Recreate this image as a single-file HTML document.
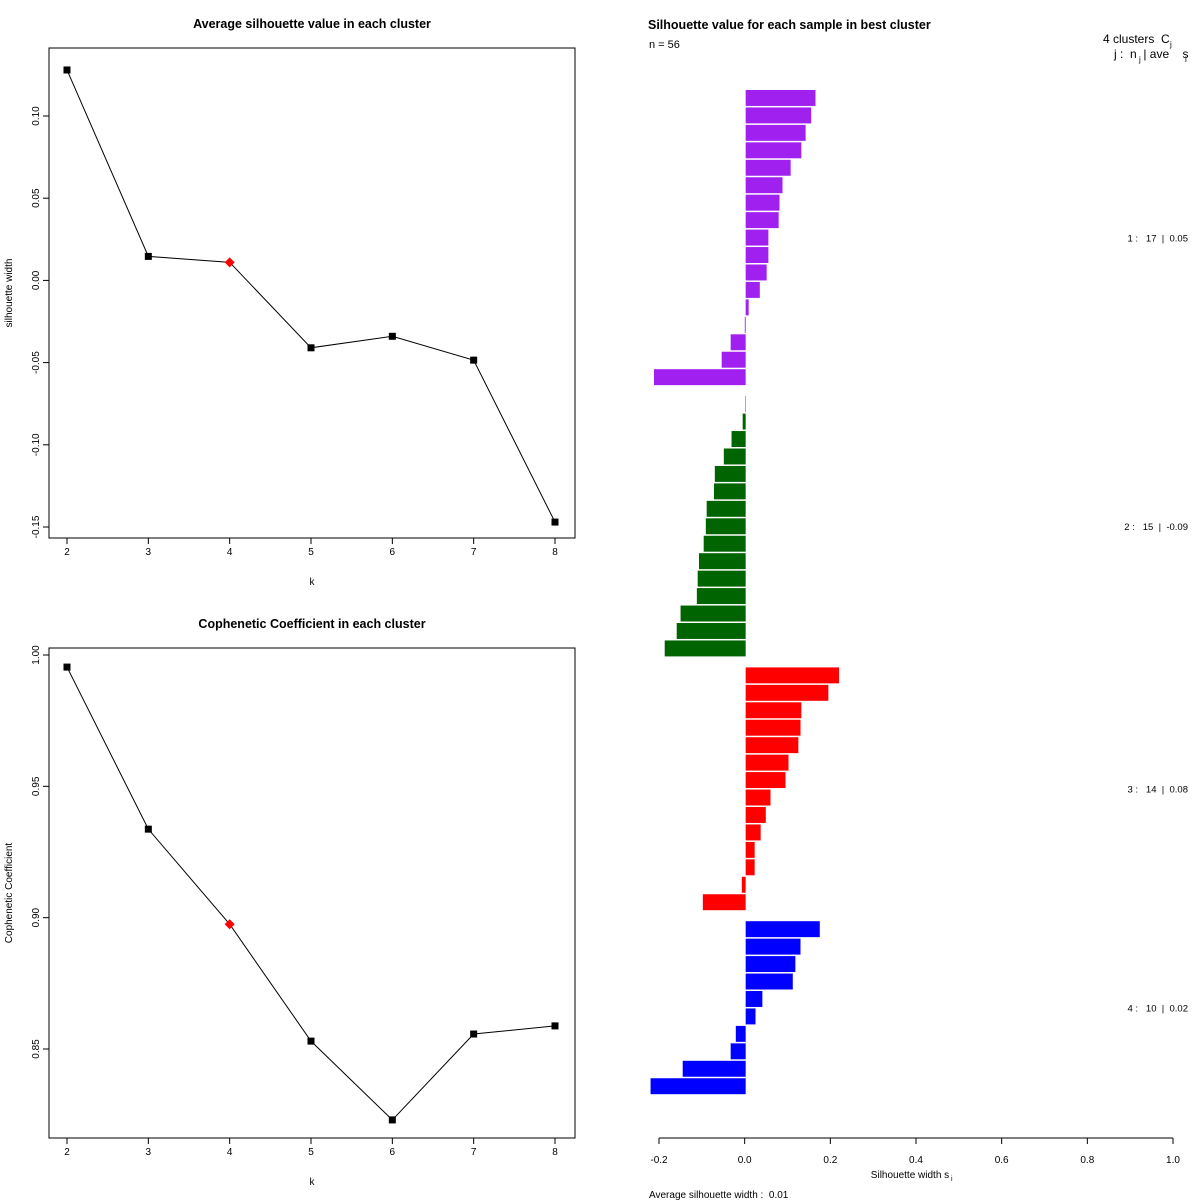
<!DOCTYPE html>
<html><head><meta charset="utf-8"><style>
body{margin:0;background:#fff;}
svg{display:block;font-family:"Liberation Sans",Arial,sans-serif;}
text{white-space:pre;}
</style></head><body>
<svg id="s" width="1200" height="1200" xmlns="http://www.w3.org/2000/svg"></svg>
<script>
const kVals=[2,3,4,5,6,7,8];
const silAvg=[0.128,0.0146,0.011,-0.041,-0.034,-0.0485,-0.147];
const silTicks=[-0.15,-0.10,-0.05,0.00,0.05,0.10];
const silTickLabels=["-0.15","-0.10","-0.05","0.00","0.05","0.10"];
const coph=[0.9954,0.9337,0.8975,0.853,0.823,0.8557,0.8588];
const cophTicks=[0.85,0.90,0.95,1.00];
const cophTickLabels=["0.85","0.90","0.95","1.00"];
const bestK=4;
const clusterNames=["1","2","3","4"];
const clusterSizes=[17,15,14,10];
const clusterAvg=["0.05","-0.09","0.08","0.02"];
const clusterColors=["#A020F0","#006400","#FF0000","#0000FF"];
const sil1=[0.163,0.153,0.140,0.130,0.105,0.086,0.079,0.077,0.053,0.053,0.049,0.033,0.007,-0.002,-0.035,-0.056,-0.214];
const sil2=[-0.001,-0.007,-0.033,-0.051,-0.072,-0.074,-0.091,-0.093,-0.098,-0.109,-0.112,-0.114,-0.152,-0.161,-0.189];
const sil3=[0.218,0.193,0.130,0.128,0.123,0.100,0.093,0.058,0.047,0.035,0.021,0.021,-0.009,-0.100];
const sil4=[0.173,0.128,0.116,0.110,0.039,0.023,-0.023,-0.035,-0.147,-0.222];
const silSeries=[sil1,sil2,sil3,sil4];
const xTicks=[-0.2,0,0.2,0.4,0.6,0.8,1.0];
const xTickLabels=["-0.2","0.0","0.2","0.4","0.6","0.8","1.0"];

const S=document.getElementById('s');
const NS="http://www.w3.org/2000/svg";
function el(t,a,txt){const e=document.createElementNS(NS,t);for(const k in a)e.setAttribute(k,a[k]);if(txt!==undefined)e.textContent=txt;S.appendChild(e);return e;}

function linePanel(vals,ticks,labels,top,yTop,yTopV,yBot,yBotV,title,ylab,prefix){
  const L=49,R=575,T=top,B=top+490;
  const xs=k=>67+(k-2)*(555-67)/6;
  const ys=v=>yBot+(v-yBotV)*(yTop-yBot)/(yTopV-yBotV);
  let e=el('rect',{x:L,y:T,width:R-L,height:B-T,fill:'none',stroke:'#000','stroke-width':1});
  
  e=el('text',{x:312,y:T-20,'font-size':12.5,'font-weight':'bold','text-anchor':'middle'},title);
  
  kVals.forEach(k=>{
    e=el('line',{x1:xs(k),x2:xs(k),y1:B,y2:B+6,stroke:'#000'});
    
    e=el('text',{x:xs(k),y:B+17,'font-size':10,'text-anchor':'middle'},String(k));
    
  });
  ticks.forEach((t,i)=>{
    const y=ys(t);
    e=el('line',{x1:L-6,x2:L,y1:y,y2:y,stroke:'#000'});
    
    e=el('text',{x:0,y:0,'font-size':10,'text-anchor':'middle',transform:`translate(39,${y}) rotate(-90)`},labels[i]);
    
  });
  e=el('text',{x:312,y:B+47,'font-size':10,'text-anchor':'middle'},'k');
  
  e=el('text',{x:0,y:0,'font-size':10,'text-anchor':'middle',transform:`translate(12,${(T+B)/2}) rotate(-90)`},ylab);
  
  const pts=kVals.map((k,i)=>xs(k)+','+ys(vals[i])).join(' ');
  e=el('polyline',{points:pts,fill:'none',stroke:'#000','stroke-width':1});
  
  kVals.forEach((k,i)=>{
    const x=xs(k),y=ys(vals[i]);
    if(k===bestK){
      e=el('polygon',{points:`${x},${y-5} ${x+5},${y} ${x},${y+5} ${x-5},${y}`,fill:'#FF0000'});
      
    }else{
      e=el('rect',{x:x-3.5,y:y-3.5,width:7,height:7,fill:'#000'});
      
    }
  });
}
linePanel(silAvg,silTicks,silTickLabels,48,116,0.10,527,-0.15,'Average silhouette value in each cluster','silhouette width','silhouette');
linePanel(coph,cophTicks,cophTickLabels,648,655,1.00,1049,0.85,'Cophenetic Coefficient in each cluster','Cophenetic Coefficient','cophenetic');

// right silhouette plot
const x0=659,x1=1173;
const xsS=v=>x0+(v+0.2)*(x1-x0)/1.2;
let e=el('text',{x:648,y:29,'font-size':12.5,'font-weight':'bold'},'Silhouette value for each sample in best cluster');

e=el('text',{x:649,y:48,'font-size':11},'n = 56');

e=el('text',{x:1103,y:43,'font-size':12},'4 clusters  C');

e=el('text',{x:1170,y:47,'font-size':8},'j');

e=el('text',{x:1114,y:58,'font-size':12},'j :  n  | ave    s');

e=el('text',{x:1139,y:62,'font-size':8},'j');

e=el('text',{x:1185,y:62,'font-size':8},'i');

const pitch=17.45,gap=9.5;
let y=90;
silSeries.forEach((arr,c)=>{
  const y0=y;
  arr.forEach(v=>{
    const xa=xsS(0)+1,xb=xsS(v)+1;
    const r=el('rect',{x:Math.min(xa,xb),y:y,width:Math.abs(xb-xa),height:pitch-1.5,fill:clusterColors[c]});
    
    
    y+=pitch;
  });
  const mid=(y0+y)/2;
  const t=el('text',{x:1188,y:mid+3,'font-size':9.5,'text-anchor':'end'},`${clusterNames[c]} :   ${clusterSizes[c]}  |  ${clusterAvg[c]}`);
  
  
  y+=gap;
});
e=el('line',{x1:x0,x2:x1,y1:1138,y2:1138,stroke:'#000'});

xTicks.forEach((t,i)=>{
  const x=xsS(t);
  e=el('line',{x1:x,x2:x,y1:1138,y2:1144,stroke:'#000'});
  
  e=el('text',{x:x,y:1163,'font-size':10,'text-anchor':'middle'},xTickLabels[i]);
  
});
e=el('text',{x:910,y:1178,'font-size':10,'text-anchor':'middle'},'Silhouette width s');

e=el('text',{x:951,y:1181,'font-size':7},'i');

e=el('text',{x:649,y:1198,'font-size':10},'Average silhouette width :  0.01');

</script>
</body></html>
